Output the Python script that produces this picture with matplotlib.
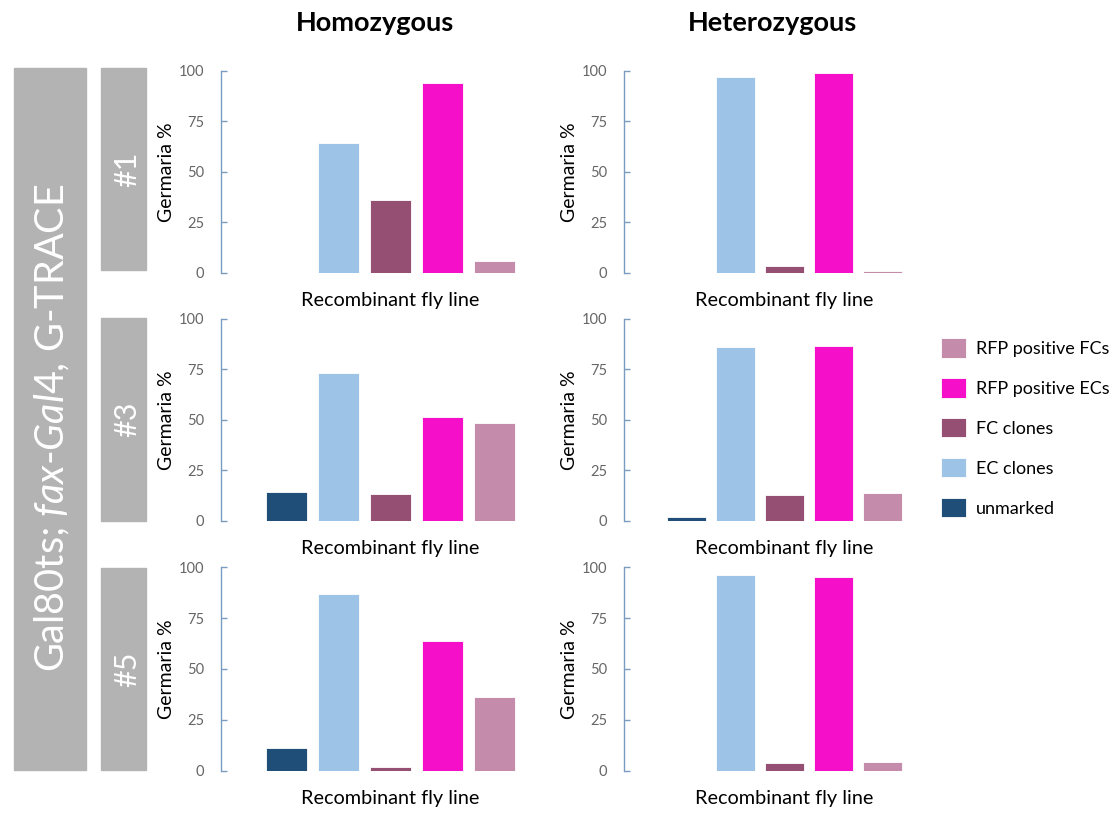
import matplotlib
matplotlib.use("Agg")
import matplotlib.pyplot as plt
from matplotlib.patches import Patch, Rectangle

plt.rcParams['font.family'] = ['Lato', 'DejaVu Sans']
plt.rcParams['mathtext.fontset'] = 'custom'
plt.rcParams['mathtext.rm'] = 'Lato'
plt.rcParams['mathtext.it'] = 'Lato:italic'

# Series (bar order left to right)
series = ["unmarked", "EC clones", "FC clones", "RFP positive ECs", "RFP positive FCs"]
colors = ["#1f4e79", "#9dc3e6", "#954f72", "#f50fc8", "#c48bab"]

genotypes = ["Homozygous", "Heterozygous"]
lines = ["#1", "#3", "#5"]

# Germaria % per fly line, [homozygous, heterozygous]
line1_values = [[0, 64, 36, 94, 6], [0, 97, 3.3, 99, 1]]
line3_values = [[14, 73, 13, 51.5, 48.4], [1.8, 86, 12.5, 86.5, 13.6]]
line5_values = [[11.3, 87, 1.5, 63.5, 36.3], [0, 96, 3.6, 95.4, 4.3]]
all_values = [line1_values, line3_values, line5_values]

yticks = [0, 25, 50, 75, 100]

W, H = 1113, 816
fig = plt.figure(figsize=(W / 100, H / 100), dpi=100)


def fx(px):
    return px / W


def fy(py):
    return 1 - py / H


col_x = [(221, 520), (624, 907)]
row_y = [(70.7, 272.7), (319, 520.5), (567.3, 770.5)]
xmin, xmax = -1.27, 4.5
xpos = list(range(len(series)))

for r, vals in enumerate(all_values):
    for c in range(2):
        x0, x1 = col_x[c]
        y0, y1 = row_y[r]
        ax = fig.add_axes([fx(x0), fy(y1), fx(x1 - x0), (y1 - y0) / H])
        ax.bar(xpos, vals[c], width=0.79, color=colors,
               edgecolor="white", linewidth=0.6)
        ax.set_xlim(xmin, xmax)
        ax.set_ylim(0, 100)
        ax.set_yticks(yticks)
        ax.set_xticks([])
        for s in ["top", "right", "bottom"]:
            ax.spines[s].set_visible(False)
        ax.spines["left"].set_color("#7a9cc0")
        ax.spines["left"].set_linewidth(1.0)
        ax.tick_params(axis="y", direction="in", length=4, width=1,
                       color="#7a9cc0", labelsize=10.5, labelcolor="#666666",
                       pad=12)
        ax.set_ylabel("Germaria %", fontsize=14, labelpad=3)
        ax.set_xlabel("Recombinant fly line", fontsize=14.3, labelpad=14)
        ax.xaxis.label.set_x((2 - xmin) / (xmax - xmin))
        ax.patch.set_alpha(0)

# Column titles
for c, name in enumerate(genotypes):
    cx = [375, 772][c]
    fig.text(fx(cx), fy(23), name, ha="center", va="center",
             fontsize=19.5, fontweight="bold")

# Grey side labels
grey = "#b3b3b3"
fig.add_artist(Rectangle((fx(14), fy(770)), fx(72), (770 - 68) / H,
                         transform=fig.transFigure, color=grey, zorder=0))
fig.text(fx(52), fy(428),
         r"Gal80ts; $\mathit{fax}$-$\mathit{Gal4}$, G-TRACE",
         rotation=90, ha="center", va="center", color="white",
         fontsize=28.5)
for r, name in enumerate(lines):
    y0, y1 = [(68, 270), (318, 521), (568, 770)][r]
    fig.add_artist(Rectangle((fx(101), fy(y1)), fx(45), (y1 - y0) / H,
                             transform=fig.transFigure, color=grey, zorder=0))
    fig.text(fx(127), fy((y0 + y1) / 2), name, rotation=90, ha="center",
             va="center", color="white", fontsize=22)

# Legend (top entry first)
handles = [Patch(facecolor=colors[i], edgecolor="white", linewidth=0.6)
           for i in reversed(range(len(series)))]
labels = [series[i] for i in reversed(range(len(series)))]
fig.legend(handles, labels, loc="upper left",
           bbox_to_anchor=(fx(941), fy(338)), frameon=False, fontsize=13,
           handlelength=1.4, handleheight=1.3, labelspacing=1.12,
           handletextpad=0.55, borderpad=0, borderaxespad=0)

fig.savefig("out.png", dpi=100)
